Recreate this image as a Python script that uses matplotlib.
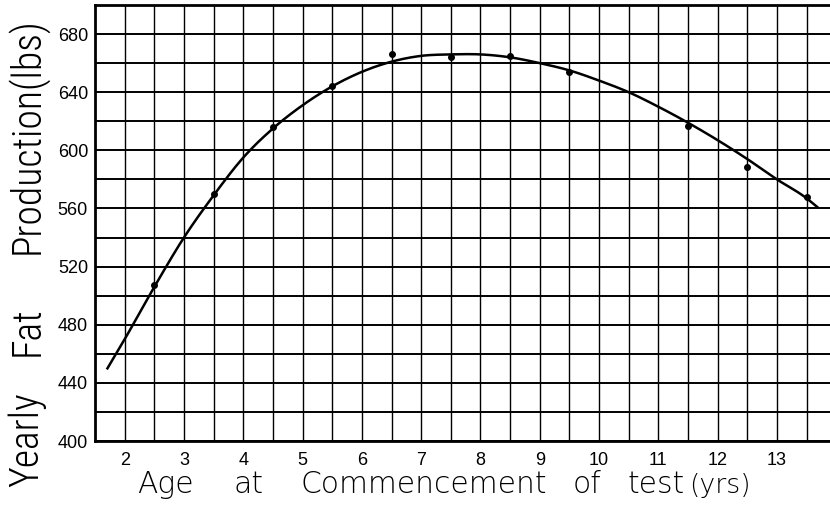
import numpy as np
import matplotlib
matplotlib.use("Agg")
import matplotlib.pyplot as plt

# ---- data ----
ages = [2.5, 3.5, 4.5, 5.5, 6.5, 7.5, 8.5, 9.5, 11.5, 12.5, 13.5]
fat = [507, 570, 616, 644, 666, 664.5, 665, 654, 617, 588.5, 568]

curve_age = [1.71, 2.0, 2.5, 3.0, 3.5, 4.0, 4.5, 5.0, 5.5, 6.0, 6.5, 7.0, 7.5,
             8.0, 8.5, 9.0, 9.5, 10.0, 10.5, 11.0, 11.5, 12.0, 12.5, 13.0,
             13.5, 13.68]
curve_fat = [450, 470, 506, 540, 569, 595, 615, 631, 644, 654, 661, 665,
             666, 666, 664, 660, 655, 648, 640, 630, 619, 607, 594,
             580, 567, 561]

xtick_vals = [2, 3, 4, 5, 6, 7, 8, 9, 10, 11, 12, 13]
xtick_labels = ["2", "3", "4", "5", "6", "7", "8", "9", "10", "11", "12", "13"]
ytick_vals = [400, 440, 480, 520, 560, 600, 640, 680]
ytick_labels = ["400", "440", "480", "520", "560", "600", "640", "680"]

ylabel_words = ["Yearly", "Fat", "Production(lbs)"]
xlabel_words = ["Age", "at", "Commencement", "of", "test", "(yrs)"]


def smooth(xs, ys, n=20):
    """Cubic Hermite through the knots (rendering only)."""
    xs = np.asarray(xs, float)
    ys = np.asarray(ys, float)
    m = np.gradient(ys, xs)
    ox, oy = [], []
    for i in range(len(xs) - 1):
        h = xs[i + 1] - xs[i]
        t = np.linspace(0, 1, n, endpoint=False)
        h00 = 2 * t**3 - 3 * t**2 + 1
        h10 = t**3 - 2 * t**2 + t
        h01 = -2 * t**3 + 3 * t**2
        h11 = t**3 - t**2
        ox.extend(xs[i] + t * h)
        oy.extend(h00 * ys[i] + h10 * h * m[i] + h01 * ys[i + 1] + h11 * h * m[i + 1])
    ox.append(xs[-1])
    oy.append(ys[-1])
    return np.array(ox), np.array(oy)


narrow = ["Roboto Condensed Light", "Roboto Condensed", "Liberation Sans Narrow",
          "Noto Sans Condensed", "Liberation Sans", "DejaVu Sans"]
wide = ["DejaVu Sans"]
regular = ["Liberation Sans", "DejaVu Sans"]

W, H = 830, 513
fig = plt.figure(figsize=(W / 100, H / 100), dpi=100)
fig.patch.set_facecolor("white")
ax = fig.add_axes([95 / W, 1 - 441 / H, 735 / W, 436 / H])

ax.set_xlim(1.5, 1.5 + 735 / 59.3)
ax.set_ylim(400, 700)

ax.set_xticks(xtick_vals)
ax.set_xticklabels(xtick_labels, fontfamily=regular, fontsize=13)
ax.set_xticks(np.arange(2.5, 14.0, 1.0), minor=True)
ax.set_yticks(ytick_vals)
ax.set_yticklabels(ytick_labels, fontfamily=regular, fontsize=13)
ax.set_yticks(np.arange(420, 700, 40), minor=True)
ax.tick_params(which="both", length=0)
ax.tick_params(axis="x", pad=8)
ax.tick_params(axis="y", pad=5)

ax.grid(which="both", axis="x", color="black", linewidth=1.0)
ax.grid(which="both", axis="y", color="black", linewidth=1.4)
ax.set_axisbelow(True)

for s in ["left", "bottom", "top"]:
    ax.spines[s].set_linewidth(2.0)
    ax.spines[s].set_color("black")
ax.spines["right"].set_visible(False)

cx, cy = smooth(curve_age, curve_fat)
ax.plot(cx, cy, color="black", linewidth=1.8, zorder=3)
ax.plot(ages, fat, "o", color="black", markersize=4, zorder=4)

renderer = fig.canvas.get_renderer()


def fit_size(txt, target_px, horizontal=True):
    fs = txt.get_fontsize()
    for _ in range(3):
        bb = txt.get_window_extent(renderer)
        cur = bb.width if horizontal else bb.height
        fs = fs * target_px / cur
        txt.set_fontsize(fs)
    return fs


# y label: three words, widely spaced, size fitted to the long word
ycent = [440, 331, 136]
ytexts = [fig.text(27 / W, 1 - yc / H, w, rotation=90, ha="center", va="center",
                   fontsize=30, fontfamily=narrow, fontweight="light")
          for w, yc in zip(ylabel_words, ycent)]
yfs = fit_size(ytexts[2], 237, horizontal=False)
for t in ytexts:
    t.set_fontsize(yfs)

# x label words at measured left edges
xleft = [137, 233, 300, 573, 627, 689]
xtexts = [fig.text(x0 / W, 1 - 493 / H, w, ha="left", va="baseline",
                   fontsize=20, fontfamily=wide, fontweight="light")
          for w, x0 in zip(xlabel_words, xleft)]
xfs = fit_size(xtexts[2], 247)
for t in xtexts[:-1]:
    t.set_fontsize(xfs)
xtexts[-1].set_fontsize(xfs * 0.9)

fig.savefig("out.png", dpi=100)
